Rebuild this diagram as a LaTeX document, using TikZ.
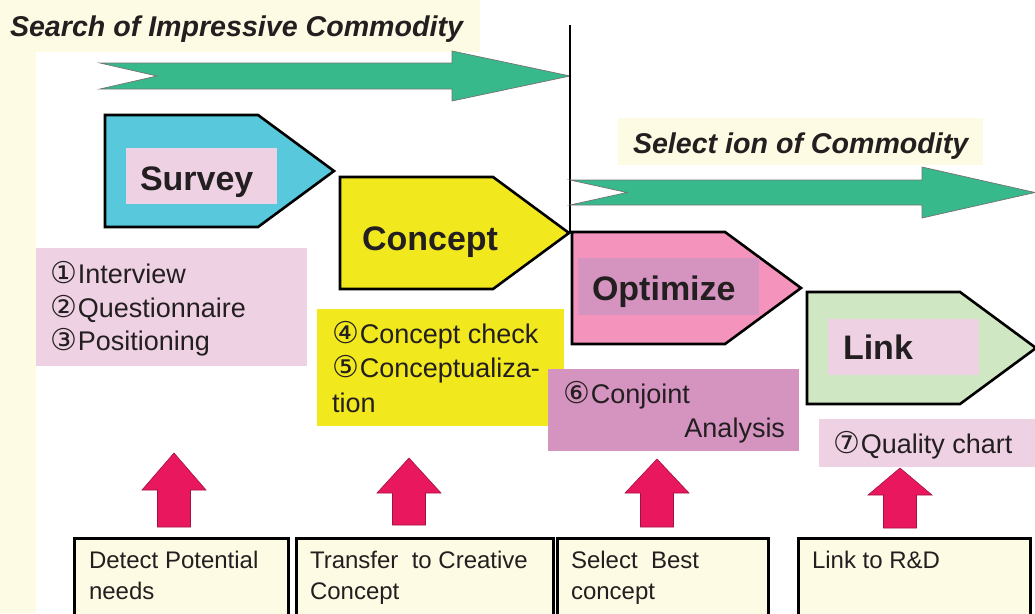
\documentclass[tikz,border=0pt]{standalone}
\usepackage{fontspec}
\setmainfont{Liberation Sans}
\newfontfamily\circfont{DejaVu Sans}
\usetikzlibrary{calc}

\definecolor{cream}{HTML}{FDFBE3}
\definecolor{ink}{HTML}{231F20}
\definecolor{surveyblue}{HTML}{58C8DD}
\definecolor{conceptyellow}{HTML}{F2E81E}
\definecolor{optpink}{HTML}{F494BC}
\definecolor{mauve}{HTML}{D593BF}
\definecolor{lightpink}{HTML}{EFD1E4}
\definecolor{linkgreen}{HTML}{CFE7C3}
\definecolor{flowgreen}{HTML}{38B98C}
\definecolor{upred}{HTML}{E9175E}

% circled step numbers
\newcommand\cnum[1]{{\circfont\fontsize{30}{34}\selectfont #1}\kern1pt}

% a stage pentagon: name, left x, top y, fill colour
\newcommand\stageshape[4]{%
  \draw[stageedge, fill=#4] (#2,#3) -- ++(153,0) -- ++(76,56) -- ++(-76,56)
     -- ++(-153,0) -- cycle;
  \coordinate (#1-tip) at ($(#2,#3)+(229,56)$);
}

% an upward block arrow: tip x, tip y, head base y, foot y
\newcommand\upblock[4]{%
  \filldraw[upa] (#1,#2) -- (#1+32,#3) -- (#1+16.5,#3) -- (#1+16.5,#4)
     -- (#1-16.5,#4) -- (#1-16.5,#3) -- (#1-32,#3) -- cycle;
}

\begin{document}
\begin{tikzpicture}[x=1pt,y=-1pt,
  stageedge/.style={draw=black, line width=2.6pt, line join=miter},
  flow/.style={fill=flowgreen, draw=black!55, line width=0.7pt, line join=miter},
  upa/.style={fill=upred, draw=upred!70!black, line width=0.6pt, line join=miter},
  panel/.style={inner sep=0pt, outer sep=0pt, anchor=north west},
  notebox/.style={panel, fill=cream, draw=black, line width=3pt},
  txt/.style={inner sep=0pt, outer sep=0pt, anchor=base west, text=ink},
  headfont/.style={font=\fontsize{28.6}{34}\selectfont\bfseries\itshape},
  stagefont/.style={font=\fontsize{34}{40}\selectfont\bfseries},
  itemfont/.style={font=\fontsize{27}{34}\selectfont},
  notefont/.style={font=\fontsize{24}{30}\selectfont},
]
\useasboundingbox (0,0) rectangle (1035,613);

% page ground
\fill[cream] (0,0) rectangle (1035,613);
\fill[white] (36,52) -- (480,52) -- (480,0) -- (1035,0) -- (1035,613)
  -- (36,613) -- cycle;

% headings
\node[txt, headfont] (search) at (10,36) {Search of Impressive Commodity};

% first flow arrow
\filldraw[flow] (100,63) -- (452,63) -- (452,51) -- (570,76) -- (452,101)
  -- (452,89) -- (100,89) -- (157,76) -- cycle;

% stages
\stageshape{survey}{105}{115}{surveyblue}
\stageshape{concept}{340}{177}{conceptyellow}
\stageshape{optimize}{572}{232}{optpink}
\stageshape{link}{807}{292}{linkgreen}

% divider between the two phases
\coordinate (divtop) at (570,25);
\draw[line width=2.4pt] (divtop) -- (divtop |- concept-tip);

% second phase heading and flow arrow
\node[panel, fill=cream, minimum width=365pt, minimum height=47pt] (selbox) at (618,118) {};
\node[txt, headfont] (selection) at (633,153) {Select ion of Commodity};
\filldraw[flow] (570,180) -- (922,180) -- (922,167) -- (1035,192.5) -- (922,218)
  -- (922,205) -- (570,205) -- (627,192.5) -- cycle;

% stage titles
\node[panel, fill=lightpink, minimum width=151pt, minimum height=56pt] (surveybox) at (126,148) {};
\node[txt, stagefont] (surveytitle) at (140,190) {Survey};
\node[txt, stagefont] (concepttitle) at (362,250) {Concept};
\node[panel, fill=mauve, minimum width=181pt, minimum height=57pt] (optbox) at (578,258) {};
\node[txt, stagefont] (opttitle) at (592,300) {Optimize};
\node[panel, fill=lightpink, minimum width=151pt, minimum height=56pt] (linkbox) at (828,319) {};
\node[txt, stagefont] (linktitle) at (843,359) {Link};

% method lists
\node[panel, fill=lightpink, minimum width=271pt, minimum height=118pt] (methods1) at (36,248) {};
\node[txt, itemfont] (m1) at (50,283) {\cnum{①}Interview};
\node[txt, itemfont] (m2) at (50,317) {\cnum{②}Questionnaire};
\node[txt, itemfont] (m3) at (50,350) {\cnum{③}Positioning};

\node[panel, fill=conceptyellow, minimum width=247pt, minimum height=117pt] (methods2) at (317,309) {};
\node[txt, itemfont] (m4) at (332,343) {\cnum{④}Concept check};
\node[txt, itemfont] (m5) at (332,377) {\cnum{⑤}Conceptualiza-};
\node[txt, itemfont] (m5b) at (332,412) {tion};

\node[panel, fill=mauve, minimum width=251pt, minimum height=82pt] (methods3) at (548,369) {};
\node[txt, itemfont] (m6) at (563,403) {\cnum{⑥}Conjoint};
\node[txt, itemfont, anchor=base east] (m6b) at (785,437) {Analysis};

\node[panel, fill=lightpink, minimum width=216pt, minimum height=48pt] (methods4) at (819,419) {};
\node[txt, itemfont] (m7) at (833,453) {\cnum{⑦}Quality chart};

% upward arrows
\upblock{174}{453}{490}{527}
\upblock{409}{458}{493}{525}
\upblock{657}{459}{493}{527}
\upblock{900}{468}{495}{528}

% aims
\node[notebox, minimum width=214pt, minimum height=84pt] (aim1) at (74,538) {};
\node[notebox, minimum width=257pt, minimum height=84pt] (aim2) at (296,538) {};
\node[notebox, minimum width=211pt, minimum height=84pt] (aim3) at (557,538) {};
\node[notebox, minimum width=232pt, minimum height=84pt] (aim4) at (798,538) {};

\node[txt, notefont] (a1) at (89,568) {Detect Potential};
\node[txt, notefont] (a1b) at (89,599) {needs};
\node[txt, notefont] (a2) at (310,568) {Transfer\ \ to Creative};
\node[txt, notefont] (a2b) at (310,599) {Concept};
\node[txt, notefont] (a3) at (571,568) {Select\ \ Best};
\node[txt, notefont] (a3b) at (571,599) {concept};
\node[txt, notefont] (a4) at (812,568) {Link to R\&D};
\end{tikzpicture}
\end{document}
